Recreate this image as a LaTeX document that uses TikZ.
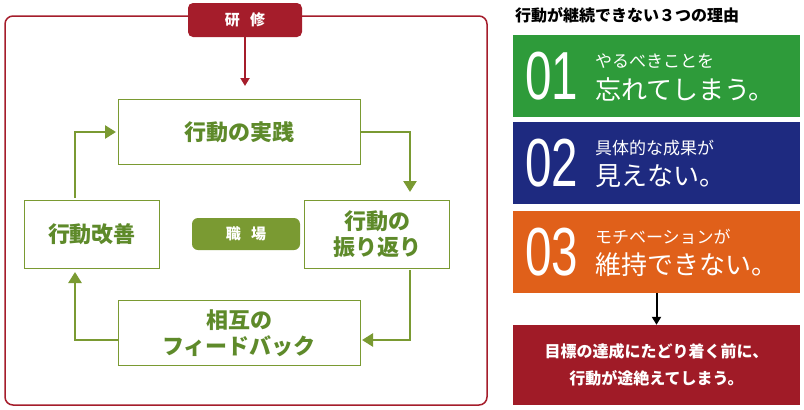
\documentclass[tikz,border=0pt]{standalone}
\usepackage{fontspec}
\setmainfont{Noto Sans CJK JP}
\newfontfamily\numfont{Liberation Sans}
\usetikzlibrary{arrows.meta}
\definecolor{fr}{HTML}{A51D2B}
\definecolor{gl}{HTML}{7A9A32}
\definecolor{gt}{HTML}{5E8A2A}
\definecolor{cg}{HTML}{2E9B3A}
\definecolor{cb}{HTML}{1E2A80}
\definecolor{co}{HTML}{E0601A}
\definecolor{cr}{HTML}{A01B27}
\begin{document}
\begin{tikzpicture}[x=1pt,y=-1pt,
  wbox/.style={draw=gl,line width=0.8pt,fill=white,text=gt,font=\fontsize{22}{26}\selectfont\bfseries,align=center,inner sep=0},
  garr/.style={draw=gl,line width=2.5pt,-{Triangle[length=11pt,width=13pt]}},
  rbox/.style={minimum width=287pt,minimum height=82pt,inner sep=0,text=white},
  num/.style={font=\numfont\fontsize{68}{68}\selectfont,anchor=west,text=white,inner sep=0},
  big/.style={font=\fontsize{26}{28}\selectfont,anchor=west,align=left,text=white,inner sep=0}]
\useasboundingbox (0,0) rectangle (804,410);
\draw[fr,line width=1.5pt,rounded corners=8pt] (5,16) rectangle (487,405);
\node[fill=fr,rounded corners=5pt,minimum width=114pt,minimum height=34pt,text=white,font=\fontsize{15}{17}\selectfont\bfseries] (ken) at (245,20) {研\hspace{0.7em}修};
\node[wbox,minimum width=242pt,minimum height=65pt] (top) at (239,132) {行動の実践};
\node[wbox,minimum width=145pt,minimum height=68pt] (right) at (377,234) {行動の\\振り返り};
\node[wbox,minimum width=242pt,minimum height=65pt] (bot) at (239,333) {相互の\\フィードバック};
\node[wbox,minimum width=135pt,minimum height=68pt] (left) at (92,234) {行動改善};
\node[fill=gl,rounded corners=6pt,minimum width=108pt,minimum height=32pt,text=white,font=\fontsize{15}{17}\selectfont\bfseries] (shoku) at (246,234) {職\hspace{0.7em}場};
\draw[fr,line width=2pt,-{Triangle[length=8pt,width=9pt]}] (ken.south) -- (245,86);
\draw[garr] (top.east|-0,132) -| (410,192);
\draw[garr] (410,270) |- (362,340);
\draw[garr] (bot.west|-0,340) -| (75,272);
\draw[garr] (75,198) |- (116,132);
\node[font=\fontsize{16}{18}\selectfont\bfseries,anchor=west,inner sep=0] (title) at (515,15) {行動が継続できない３つの理由};
\node[rbox,fill=cg] (b1) at (656.5,76) {};
\node[rbox,fill=cb] (b2) at (656.5,163) {};
\node[rbox,fill=co] (b3) at (656.5,252) {};
\node[minimum width=287pt,minimum height=80pt,fill=cr,text=white,align=center,font=\fontsize{16}{27}\selectfont\bfseries] (b4) at (656.5,365) {目標の達成にたどり着く前に、\\行動が途絶えてしまう。};
\foreach \b/\n/\s/\t in {b1/01/やるべきことを/忘れてしまう。,b2/02/具体的な成果が/見えない。,b3/03/モチベーションが/維持できない。}{
  \node[num] at ([xshift=12pt,yshift=0pt]\b.west) {\scalebox{0.7}[1]{\n}};
  \node[anchor=west,text=white,font=\fontsize{17}{19}\selectfont,inner sep=0] at ([xshift=82pt,yshift=15pt]\b.west) {\s};
  \node[big] at ([xshift=82pt,yshift=-13pt]\b.west) {\t};
}
\draw[line width=2pt,-{Triangle[length=8pt,width=9pt]}] (b3.south) -- (b4.north);
\end{tikzpicture}
\end{document}
